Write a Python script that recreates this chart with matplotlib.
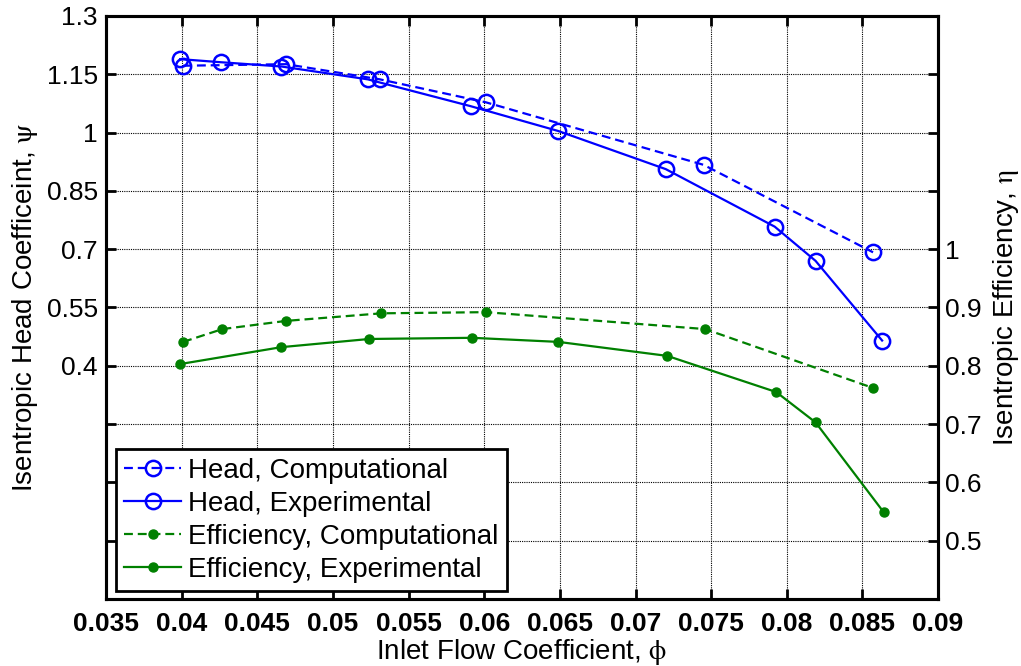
import numpy as np
import matplotlib
matplotlib.use('Agg')
from matplotlib import pyplot as plt

plt.rcParams['font.family'] = ['Liberation Sans', 'DejaVu Sans']
plt.rcParams['mathtext.fontset'] = 'stix'
plt.rcParams['mathtext.default'] = 'rm'

# head coefficient, computational and experimental
phi_head_comp = [0.0401, 0.0469, 0.0531, 0.0601, 0.0745, 0.0857]
psi_comp = [1.172, 1.176, 1.137, 1.078, 0.917, 0.692]
phi_head_exp = [0.0399, 0.0426, 0.0466, 0.0523, 0.0591, 0.0649, 0.0720, 0.0792, 0.0819, 0.0863]
psi_exp = [1.189, 1.181, 1.170, 1.137, 1.068, 1.004, 0.906, 0.758, 0.670, 0.465]

# isentropic efficiency, computational and experimental
phi_eff_comp = [0.0401, 0.0427, 0.0469, 0.0532, 0.0601, 0.0746, 0.0857]
eta_comp = [0.841, 0.863, 0.877, 0.890, 0.892, 0.863, 0.762]
phi_eff_exp = [0.0399, 0.0466, 0.0524, 0.0592, 0.0649, 0.0721, 0.0793, 0.0819, 0.0864]
eta_exp = [0.803, 0.832, 0.846, 0.848, 0.841, 0.817, 0.755, 0.703, 0.549]

xticks = [0.035, 0.04, 0.045, 0.05, 0.055, 0.06, 0.065, 0.07, 0.075, 0.08, 0.085, 0.09]
xtick_labels = ['0.035', '0.04', '0.045', '0.05', '0.055', '0.06', '0.065',
                '0.07', '0.075', '0.08', '0.085', '0.09']
psi_ticks = [-0.05, 0.1, 0.25, 0.4, 0.55, 0.7, 0.85, 1.0, 1.15, 1.3]
psi_labels = ['', '', '', '0.4', '0.55', '0.7', '0.85', '1', '1.15', '1.3']
eta_ticks = [0.5, 0.6, 0.7, 0.8, 0.9, 1.0, 1.1, 1.2, 1.3]
eta_labels = ['0.5', '0.6', '0.7', '0.8', '0.9', '1', '', '', '']

blue = (0, 0, 1)
green = (0, 0.5, 0)
fs = 19
lfs = 20

fig = plt.figure(figsize=(10.21, 6.66), dpi=100)
ax1 = fig.add_axes([0.1038, 0.1006, 0.815, 0.8754])
ax2 = ax1.twinx()

circ = dict(marker='o', markersize=11, markerfacecolor='none', markeredgewidth=1.8)
dot = dict(marker='o', markersize=6.5)

l1, = ax1.plot(phi_head_comp, psi_comp, color=blue, lw=1.6, dashes=(4, 2.2), **circ)
l2, = ax1.plot(phi_head_exp, psi_exp, color=blue, lw=1.6, **circ)
l3, = ax2.plot(phi_eff_comp, eta_comp, color=green, lw=1.6, dashes=(4, 2.2), **dot)
l4, = ax2.plot(phi_eff_exp, eta_exp, color=green, lw=1.6, **dot)

ax1.set_xlim(0.035, 0.09)
ax1.set_ylim(-0.2, 1.3)
ax2.set_ylim(0.4, 1.4)

ax1.set_xticks(xticks)
ax1.set_xticklabels(xtick_labels, fontsize=fs, fontweight='bold')
ax1.set_yticks(psi_ticks)
ax1.set_yticklabels(psi_labels, fontsize=fs)
ax2.set_yticks(eta_ticks)
ax2.set_yticklabels(eta_labels, fontsize=fs)

ax1.tick_params(axis='both', direction='in', length=7, width=2, top=True, right=False)
ax1.tick_params(axis='x', pad=9)
ax1.tick_params(axis='y', pad=6)
ax2.tick_params(axis='y', direction='in', length=7, width=2, pad=5)

ax1.grid(True, color='black', linestyle=(0, (1, 1)), linewidth=0.8)

for ax in (ax1, ax2):
    for s in ax.spines.values():
        s.set_linewidth(2.2)

ax1.set_xlabel(r'Inlet Flow Coefficient, $\phi$', fontsize=lfs, labelpad=1)
ax1.set_ylabel(r'Isentropic Head Coefficeint, $\psi$', fontsize=lfs, labelpad=5)
ax2.set_ylabel(r'Isentropic Efficiency, $\eta$', fontsize=lfs, labelpad=7)

leg = ax2.legend([l1, l2, l3, l4],
                 ['Head, Computational', 'Head, Experimental',
                  'Efficiency, Computational', 'Efficiency, Experimental'],
                 loc='lower left', bbox_to_anchor=(0.012, 0.014), borderaxespad=0,
                 fontsize=lfs, fancybox=False, framealpha=1, edgecolor='black',
                 handlelength=2.05, handletextpad=0.25, labelspacing=0.25,
                 borderpad=0.3)
leg.get_frame().set_linewidth(2)

fig.savefig('out.png', dpi=100)
